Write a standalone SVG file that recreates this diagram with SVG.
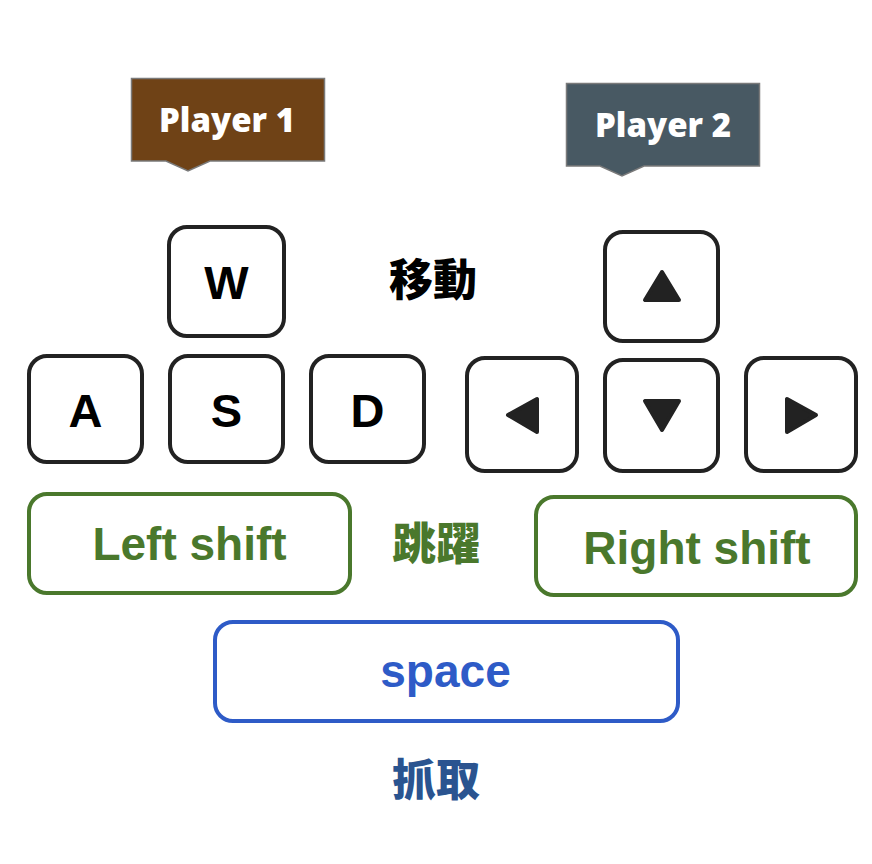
<svg xmlns="http://www.w3.org/2000/svg" width="872" height="864" viewBox="0 0 872 864">
<style>
.key{fill:#fff;stroke:#222;stroke-width:4}
.klabel{font-family:"Liberation Sans",Arial,sans-serif;font-weight:bold;font-size:47px;fill:#000;text-anchor:middle}
.tri{fill:#222;stroke:#222;stroke-width:4;stroke-linejoin:round}
.gkey{fill:#fff;stroke:#4a782c;stroke-width:4}
.glabel{font-family:"Liberation Sans",Arial,sans-serif;font-weight:bold;font-size:46px;fill:#4a782c;text-anchor:middle}
.cjk{font-family:"Noto Sans CJK TC","Noto Sans CJK SC",sans-serif;font-weight:900;font-size:44px;text-anchor:middle}
.ptag{stroke:#7a7a7a;stroke-width:1.5}
.ptext{font-family:"Open Sans","Noto Sans",sans-serif;font-weight:800;font-size:33px;fill:#fff;text-anchor:middle}
</style>
<rect width="872" height="864" fill="#fff"/>
<g id="player1">
<path class="ptag" fill="#6f4216" d="M131.5,78.5 H324.5 V161 H210 L188,171 L166,161 H131.5 Z"/>
<text class="ptext" x="227" y="132">Player 1</text>
</g>
<g id="player2">
<path class="ptag" fill="#485963" d="M566.5,83.5 H759.5 V166 H644 L622,176 L600,166 H566.5 Z"/>
<text class="ptext" x="663" y="137">Player 2</text>
</g>
<g id="key-w">
<rect class="key" x="169" y="227" width="115" height="109" rx="18"/>
<text class="klabel" x="226.5" y="299">W</text>
</g>
<text id="label-move" class="cjk" x="433" y="296" fill="#000">移動</text>
<g id="key-a">
<rect class="key" x="29" y="356" width="113" height="106" rx="18"/>
<text class="klabel" x="85.5" y="427">A</text>
</g>
<g id="key-s">
<rect class="key" x="170" y="356" width="113" height="106" rx="18"/>
<text class="klabel" x="226.5" y="427">S</text>
</g>
<g id="key-d">
<rect class="key" x="311" y="356" width="113" height="106" rx="18"/>
<text class="klabel" x="367.5" y="427">D</text>
</g>
<g id="key-up">
<rect class="key" x="605" y="232" width="113" height="109" rx="18"/>
<polygon class="tri" points="662,272 645,300 679,300"/>
</g>
<g id="key-left">
<rect class="key" x="467" y="358" width="110" height="113" rx="18"/>
<polygon class="tri" points="508,415 537,399 537,432"/>
</g>
<g id="key-down">
<rect class="key" x="605" y="360" width="113" height="111" rx="18"/>
<polygon class="tri" points="645,401 679,401 662,430"/>
</g>
<g id="key-right">
<rect class="key" x="746" y="358" width="110" height="113" rx="18"/>
<polygon class="tri" points="787,399 787,432 816,415"/>
</g>
<g id="key-lshift">
<rect class="gkey" x="29" y="494" width="321" height="99" rx="18"/>
<text class="glabel" x="189.5" y="560">Left shift</text>
</g>
<text id="label-jump" class="cjk" x="436" y="560" fill="#4a782c">跳躍</text>
<g id="key-rshift">
<rect class="gkey" x="536" y="497" width="320" height="98" rx="18"/>
<text class="glabel" x="697" y="564">Right shift</text>
</g>
<g id="key-space">
<rect x="215" y="622" width="463" height="99" rx="18" fill="#fff" stroke="#2e5bc7" stroke-width="4"/>
<text x="445.5" y="687" font-family="Liberation Sans,Arial,sans-serif" font-weight="bold" font-size="46" fill="#2e5bc7" text-anchor="middle">space</text>
</g>
<text id="label-grab" class="cjk" x="436" y="796" fill="#2a5490">抓取</text>
<g id="connectors"/>
</svg>
